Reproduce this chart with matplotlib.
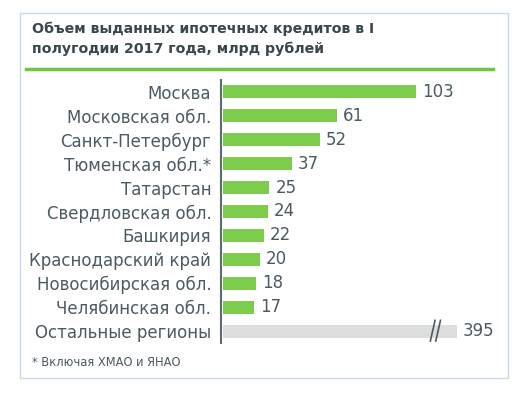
import numpy as np
import matplotlib.pyplot as plt
from matplotlib.patches import Rectangle

regions = ["Москва", "Московская обл.", "Санкт-Петербург", "Тюменская обл.*",
           "Татарстан", "Свердловская обл.", "Башкирия", "Краснодарский край",
           "Новосибирская обл.", "Челябинская обл.", "Остальные регионы"]
values = [103, 61, 52, 37, 25, 24, 22, 20, 18, 17, 395]
other_shown = 125  # bar for "Остальные регионы" is cut (scale break)

title = "Объем выданных ипотечных кредитов в I\nполугодии 2017 года, млрд рублей"
note = "* Включая ХМАО и ЯНАО"

text_c = "#4b5b62"
green = "#7ccd4c"
gray = "#dcdddd"

W, H = 524, 397
fig = plt.figure(figsize=(W / 100, H / 100), dpi=100)
fig.patch.set_facecolor("white")

# frame and title
fig.patches.append(Rectangle((20 / W, 1 - 378 / H), 488 / W, 365 / H,
                             transform=fig.transFigure, fill=False,
                             edgecolor="#c8d8f0", lw=1))
fig.text(32 / W, 1 - 22 / H, title, ha="left", va="top", fontsize=10.2,
         fontweight="bold", color="#3a474c", linespacing=1.45)
fig.add_artist(plt.Line2D([26 / W, 493 / W], [1 - 69 / H, 1 - 69 / H],
                          color="#72c63e", lw=2.5, transform=fig.transFigure))
fig.text(32 / W, 1 - 362 / H, note, ha="left", va="center", fontsize=8.3,
         color=text_c)

ax = fig.add_axes([221 / W, 1 - 343 / H, 287 / W, 263 / H])
y = np.arange(len(regions))
shown = values[:-1] + [other_shown]
colors = [green] * (len(regions) - 1) + [gray]
ax.barh(y, shown, height=0.54, color=colors, left=0.8)
for yi, v, s in zip(y, values, shown):
    ax.text(s + 4, yi, str(v), va="center", ha="left", fontsize=12,
            color=text_c)

# scale-break mark on the last bar
bx = other_shown - 13.5
for dx in (0, 2.9):
    ax.plot([bx + dx, bx + dx + 2.7], [y[-1] + 0.45, y[-1] - 0.48],
            color=text_c, lw=1.2, solid_capstyle="butt")

ax.set_xlim(0, 153)
ax.set_ylim(len(regions) - 0.5, -0.5)
ax.set_yticks(y)
ax.set_yticklabels(regions, fontsize=12, color=text_c)
ax.tick_params(axis="y", length=0, pad=7)
ax.set_xticks([])
for side in ["top", "right", "bottom"]:
    ax.spines[side].set_visible(False)
ax.spines["left"].set_color("#5d6a6f")
ax.spines["left"].set_linewidth(1.5)
ax.patch.set_alpha(0)

fig.savefig("out.png", dpi=100)
plt.close()
